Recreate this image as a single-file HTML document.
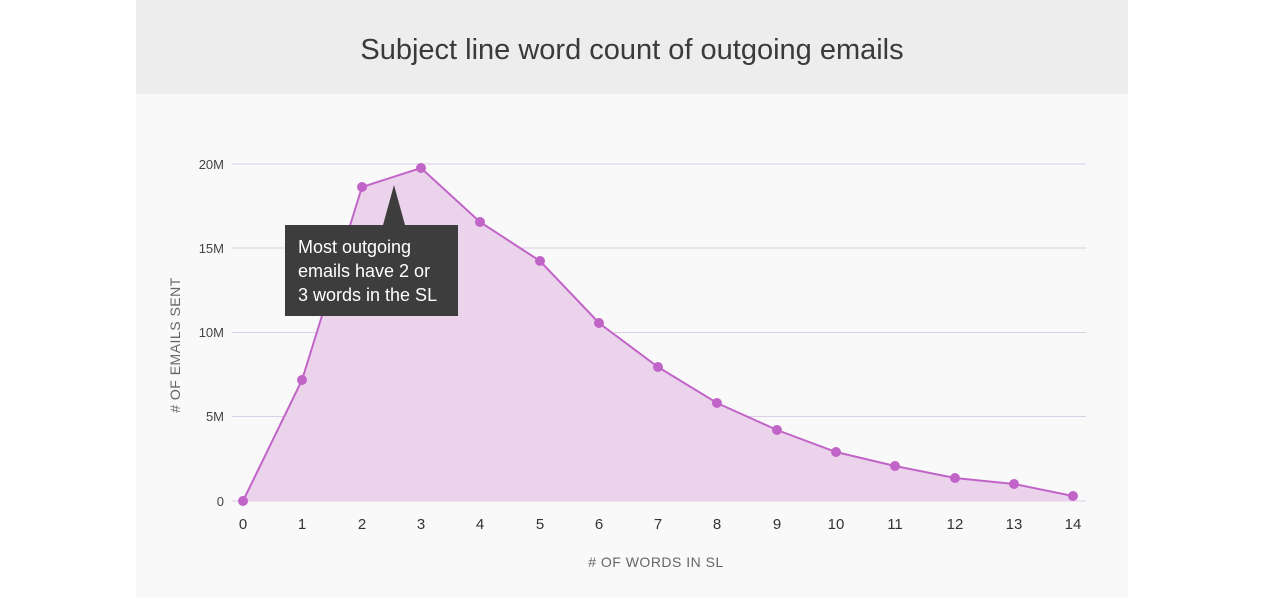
<!DOCTYPE html>
<html><head><style>
body{margin:0;background:#fff;width:1280px;height:598px;overflow:hidden;font-family:"Liberation Sans",sans-serif}
</style></head><body>
<svg width="1280" height="598" xmlns="http://www.w3.org/2000/svg" font-family="Liberation Sans, sans-serif">
<rect x="136" y="0" width="992" height="94" fill="#ededed"/>
<rect x="136" y="94" width="992" height="504" fill="#faf9f9"/>
<text x="632" y="59" text-anchor="middle" font-size="29" fill="#3a3a3a">Subject line word count of outgoing emails</text>
<g stroke="#dccfe6" stroke-width="1">
<line x1="232" y1="164" x2="1086" y2="164"/>
<line x1="232" y1="248" x2="1086" y2="248"/>
<line x1="232" y1="332.5" x2="1086" y2="332.5"/>
<line x1="232" y1="416.5" x2="1086" y2="416.5"/>
<line x1="232" y1="501" x2="1086" y2="501"/>
</g>
<g font-size="13" fill="#444" text-anchor="end">
<text x="224" y="169">20M</text><text x="224" y="253">15M</text><text x="224" y="337">10M</text><text x="224" y="421">5M</text><text x="224" y="506">0</text>
</g>
<polygon fill="#ecd3ec" points="243,501 302,380 362,187 421,168 480,222 540,261 599,323 658,367 717,403 777,430 836,452 895,466 955,478 1014,484 1073,496 1073,501"/>
<polyline fill="none" stroke="#c164c8" stroke-width="2" points="243,501 302,380 362,187 421,168 480,222 540,261 599,323 658,367 717,403 777,430 836,452 895,466 955,478 1014,484 1073,496"/>
<g fill="#c164c8">
<circle cx="243" cy="501" r="5"/><circle cx="302" cy="380" r="5"/><circle cx="362" cy="187" r="5"/><circle cx="421" cy="168" r="5"/><circle cx="480" cy="222" r="5"/><circle cx="540" cy="261" r="5"/><circle cx="599" cy="323" r="5"/><circle cx="658" cy="367" r="5"/><circle cx="717" cy="403" r="5"/><circle cx="777" cy="430" r="5"/><circle cx="836" cy="452" r="5"/><circle cx="895" cy="466" r="5"/><circle cx="955" cy="478" r="5"/><circle cx="1014" cy="484" r="5"/><circle cx="1073" cy="496" r="5"/>
</g>
<g font-size="15" fill="#333" text-anchor="middle">
<text x="243" y="529">0</text><text x="302" y="529">1</text><text x="362" y="529">2</text><text x="421" y="529">3</text><text x="480" y="529">4</text><text x="540" y="529">5</text><text x="599" y="529">6</text><text x="658" y="529">7</text><text x="717" y="529">8</text><text x="777" y="529">9</text><text x="836" y="529">10</text><text x="895" y="529">11</text><text x="955" y="529">12</text><text x="1014" y="529">13</text><text x="1073" y="529">14</text>
</g>
<text x="656" y="567" text-anchor="middle" font-size="14" fill="#666" letter-spacing="0.5"># OF WORDS IN SL</text>
<text x="180" y="345" text-anchor="middle" font-size="14" fill="#666" letter-spacing="0.5" transform="rotate(-90 180 345)"># OF EMAILS SENT</text>
<polygon fill="#3d3d3d" points="285,225 383,225 394,185 405,225 458,225 458,316 285,316"/>
<g font-size="18" fill="#fff">
<text x="298" y="253">Most outgoing</text><text x="298" y="277">emails have 2 or</text><text x="298" y="301">3 words in the SL</text>
</g>
</svg>
</body></html>
